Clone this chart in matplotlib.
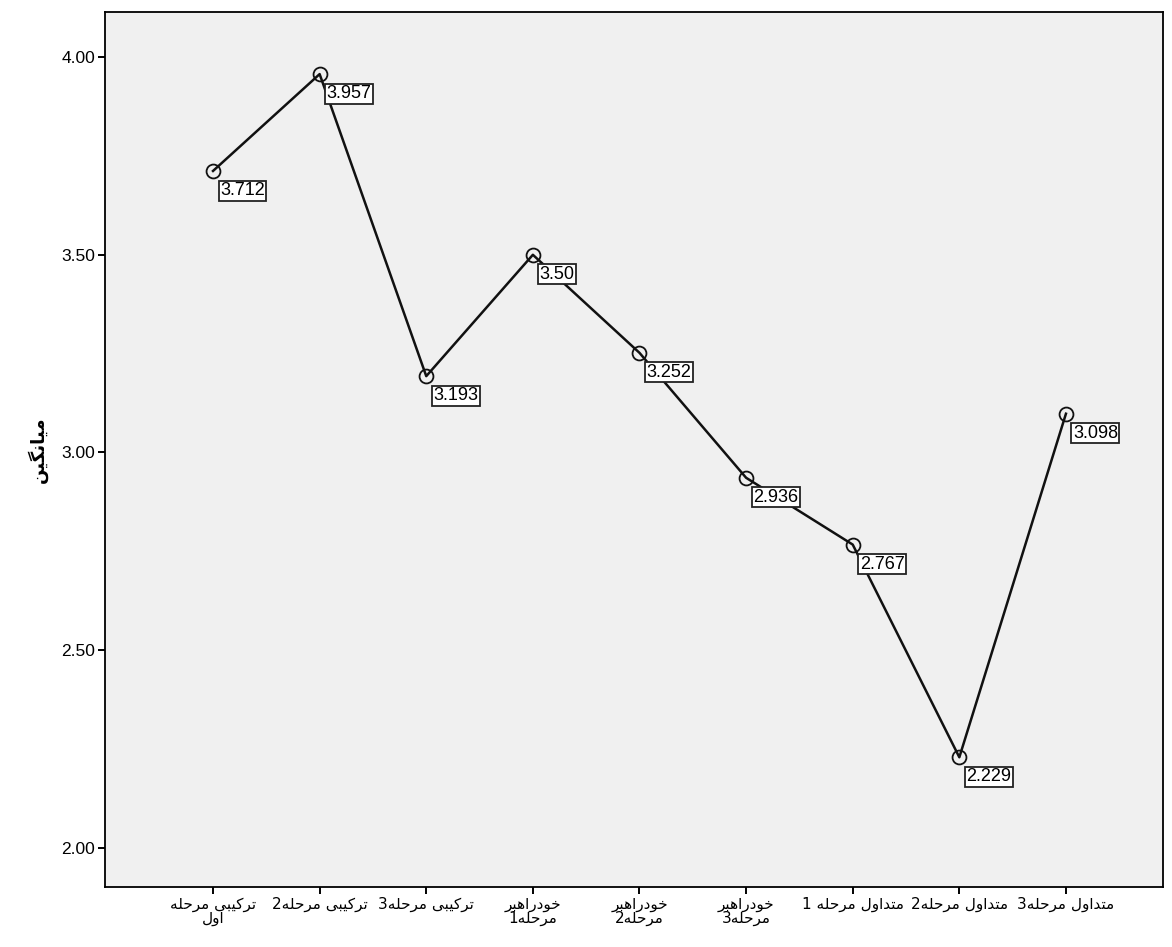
import matplotlib
matplotlib.use("Agg")
import matplotlib.pyplot as plt
import numpy as np

# data
labels = ["ترکیبی مرحله\nاول", "ترکیبی مرحله2", "ترکیبی مرحله3",
          "خودراهبر\nمرحله1", "خودراهبر\nمرحله2", "خودراهبر\nمرحله3",
          "متداول مرحله 1", "متداول مرحله2", "متداول مرحله3"]
means = [3.712, 3.957, 3.193, 3.50, 3.252, 2.936, 2.767, 2.229, 3.098]
mean_txt = ["3.712", "3.957", "3.193", "3.50", "3.252", "2.936", "2.767", "2.229", "3.098"]
yticks = [2.0, 2.5, 3.0, 3.5, 4.0]
ylabel = "میانگین"

# simple arabic/persian shaping (iso, fin, ini, med)
forms = {
    "ا": ("\uFE8D", "\uFE8E", None, None),
    "د": ("\uFEA9", "\uFEAA", None, None),
    "ر": ("\uFEAD", "\uFEAE", None, None),
    "و": ("\uFEED", "\uFEEE", None, None),
    "ب": ("\uFE8F", "\uFE90", "\uFE91", "\uFE92"),
    "ت": ("\uFE95", "\uFE96", "\uFE97", "\uFE98"),
    "ح": ("\uFEA1", "\uFEA2", "\uFEA3", "\uFEA4"),
    "خ": ("\uFEA5", "\uFEA6", "\uFEA7", "\uFEA8"),
    "ل": ("\uFEDD", "\uFEDE", "\uFEDF", "\uFEE0"),
    "م": ("\uFEE1", "\uFEE2", "\uFEE3", "\uFEE4"),
    "ن": ("\uFEE5", "\uFEE6", "\uFEE7", "\uFEE8"),
    "ه": ("\uFEE9", "\uFEEA", "\uFEEB", "\uFEEC"),
    "ک": ("\uFB8E", "\uFB8F", "\uFB90", "\uFB91"),
    "گ": ("\uFB92", "\uFB93", "\uFB94", "\uFB95"),
    "ی": ("\uFBFC", "\uFBFD", "\uFBFE", "\uFBFF"),
}


def dual(c):
    return c in forms and forms[c][2] is not None


def shape_line(s):
    out = []
    for i, c in enumerate(s):
        if c not in forms:
            out.append(c)
            continue
        prev = s[i - 1] if i > 0 else ""
        nxt = s[i + 1] if i + 1 < len(s) else ""
        jp = dual(prev)
        jn = dual(c) and nxt in forms
        f = forms[c]
        if jp and jn:
            out.append(f[3])
        elif jp:
            out.append(f[1])
        elif jn:
            out.append(f[2])
        else:
            out.append(f[0])
    return "".join(out)[::-1]


def shape(s):
    return "\n".join(shape_line(l) for l in s.split("\n"))


x = np.arange(len(means))

fig = plt.figure(figsize=(11.72, 9.47), dpi=100)
ax = fig.add_axes([0.0896, 0.0634, 0.9027, 0.9239])
ax.set_facecolor("#f0f0f0")

ax.plot(x, means, color="#111111", lw=1.8, marker="o", ms=10,
        markerfacecolor="none", markeredgecolor="#111111", markeredgewidth=1.3)

for xi, yi, t in zip(x, means, mean_txt):
    ax.annotate(t, (xi, yi), xytext=(5, -8), textcoords="offset points",
                ha="left", va="top", fontsize=13, family="Liberation Sans",
                bbox=dict(boxstyle="square,pad=0.08", fc="white", ec="#222222", lw=1.3))

ax.set_xlim(-1.013, 8.91)
ax.set_ylim(1.901, 4.114)
ax.set_yticks(yticks)
ax.set_yticklabels(["%.2f" % v for v in yticks], family="Liberation Sans", fontsize=12.5)
ax.set_xticks(x)
ax.set_xticklabels([shape(l) for l in labels], family="DejaVu Sans", fontsize=11,
                   linespacing=0.9)
ax.tick_params(direction="out", length=5, width=1.4, pad=2)
ax.set_ylabel(shape(ylabel), family="DejaVu Sans", fontsize=13, fontweight="bold", labelpad=10)
for sp in ax.spines.values():
    sp.set_linewidth(1.3)

fig.savefig("out.png", dpi=100)
